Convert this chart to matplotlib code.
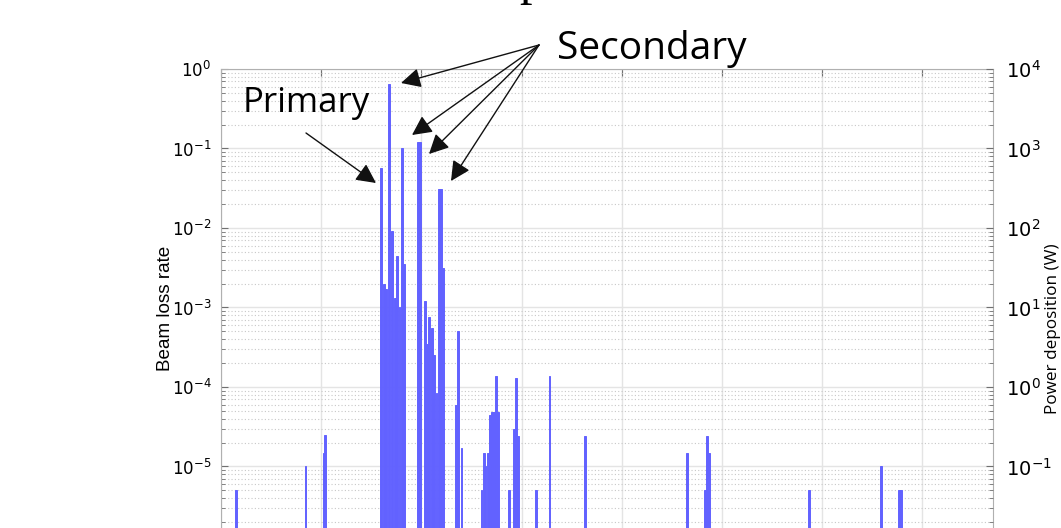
import matplotlib
matplotlib.use('Agg')
import matplotlib.pyplot as plt
from matplotlib.ticker import LogLocator, LogFormatterSciNotation, NullFormatter, MultipleLocator
import numpy as np

plt.rcParams['mathtext.fontset'] = 'custom'
plt.rcParams['mathtext.rm'] = 'Liberation Sans'
plt.rcParams['mathtext.it'] = 'Liberation Sans:italic'
plt.rcParams['mathtext.bf'] = 'Liberation Sans:bold'

# position along the ring (m) and beam loss rate of each element
positions = [75, 422, 511, 520,
             798, 814, 824, 839, 852, 869, 879, 891, 904, 914,
             983, 993, 1018, 1028, 1038, 1053, 1063, 1075, 1088, 1098, 1109,
             1171, 1182, 1200,
             1300, 1311, 1320, 1331, 1341, 1351, 1361, 1371, 1381,
             1439, 1460, 1470, 1481, 1571, 1639, 1818,
             2326, 2414, 2425, 2433, 2933, 3293, 3382, 3392]
loss_rate = [5e-6, 1e-5, 1.5e-5, 2.5e-5,
             0.057, 0.002, 0.0017, 0.65, 0.0093, 0.0013, 0.0045, 0.001, 0.10, 0.0035,
             0.12, 0.12, 0.0012, 3.5e-4, 7.6e-4, 5.6e-4, 2.5e-4, 8.3e-5, 0.031, 0.031, 0.0031,
             5.9e-5, 5.1e-4, 1.7e-5,
             5e-6, 1.5e-5, 1e-5, 1.5e-5, 4.4e-5, 4.9e-5, 4.9e-5, 1.38e-4, 4.9e-5,
             5e-6, 3e-5, 1.3e-4, 2.4e-5, 5e-6, 1.38e-4, 2.4e-5,
             1.5e-5, 5e-6, 2.4e-5, 1.5e-5, 5e-6, 1e-5, 5e-6, 5e-6]

ring_length = 3852
loss_min, loss_max = 1e-7, 1.0
power_scale = 1e4   # W per unit loss rate

sci = LogFormatterSciNotation()


def left_fmt(v, pos):
    return sci(v, pos) if v >= 0.99e-5 else ''


def right_fmt(v, pos):
    return sci(v, pos) if v >= 0.99e-1 else ''


fig = plt.figure(figsize=(10.61, 5.28), dpi=100)
ax = fig.add_axes([221/1061, 1 - 625.5/528, 772/1061, 556.5/528])

bar_color = '#6262ff'
ax.bar(positions, np.array(loss_rate) - loss_min, bottom=loss_min, width=9,
       color=bar_color, edgecolor=bar_color, linewidth=0.7, zorder=3)
ax.set_yscale('log')
ax.set_ylim(loss_min, loss_max)
ax.set_xlim(0, ring_length)
ax.xaxis.set_major_locator(MultipleLocator(500))
ax.yaxis.set_major_locator(LogLocator(base=10, numticks=20))
ax.yaxis.set_minor_locator(LogLocator(base=10, subs=np.arange(2, 10), numticks=20))
ax.yaxis.set_major_formatter(left_fmt)
ax.yaxis.set_minor_formatter(NullFormatter())

ax.grid(True, which='major', color='#e4e4e4', lw=1, zorder=0)
ax.grid(True, which='minor', axis='y', color='#c8c8c8', lw=0.8, ls=(0, (1, 2)), zorder=0)
ax.set_axisbelow(True)
for s in ax.spines.values():
    s.set_color('#b0b0b0')
ax.tick_params(which='both', direction='in', top=True, right=False, color='#707070')
ax.tick_params(which='major', length=5, labelsize=12, pad=7)
ax.tick_params(which='minor', length=3)
ax.tick_params(axis='x', labelbottom=False)
ax.set_ylabel('Beam loss rate', fontsize=13.6, family='Liberation Sans')
ax.yaxis.set_label_coords((174 - 221) / 772, (625.5 - 308.5) / 556.5)

ax2 = ax.twinx()
ax2.set_yscale('log')
ax2.set_ylim(loss_min * power_scale, loss_max * power_scale)
ax2.yaxis.set_major_locator(LogLocator(base=10, numticks=20))
ax2.yaxis.set_minor_locator(LogLocator(base=10, subs=np.arange(2, 10), numticks=20))
ax2.yaxis.set_major_formatter(right_fmt)
ax2.yaxis.set_minor_formatter(NullFormatter())
ax2.tick_params(which='both', direction='in', color='#707070')
ax2.tick_params(which='major', length=5, labelsize=14, pad=9)
ax2.tick_params(which='minor', length=3)
for s in ax2.spines.values():
    s.set_visible(False)
ax2.set_ylabel('Power deposition (W)', fontsize=12.3, family='Open Sans')
ax2.yaxis.set_label_coords((1045 - 221) / 772, (625.5 - 329) / 556.5)

# annotations (figure pixels, origin bottom-left)
H = 528
arrow = dict(arrowstyle='-|>,head_length=0.6,head_width=0.3', color='#111111',
             lw=1, shrinkA=0, shrinkB=0, mutation_scale=20)
fig.text(243/1061, 1 - 111.7/H, 'Primary', family='Open Sans', fontsize=25,
         ha='left', va='baseline')
ax.annotate('', xy=(376, H - 183), xycoords='figure pixels',
            xytext=(306, H - 133), textcoords='figure pixels', arrowprops=arrow)
fig.text(557/1061, 1 - 58.5/H, 'Secondary', family='Open Sans', fontsize=28,
         ha='left', va='baseline')
for tip in [(401, 83), (412, 135), (429, 154), (451, 181)]:
    ax.annotate('', xy=(tip[0], H - tip[1]), xycoords='figure pixels',
                xytext=(539, H - 45), textcoords='figure pixels', arrowprops=arrow)

# title above the cropped area
fig.text(519/1061, 1 + 6/H, 'p', family='Liberation Serif', fontsize=36,
         ha='left', va='baseline')

fig.savefig('out.png', dpi=100)
